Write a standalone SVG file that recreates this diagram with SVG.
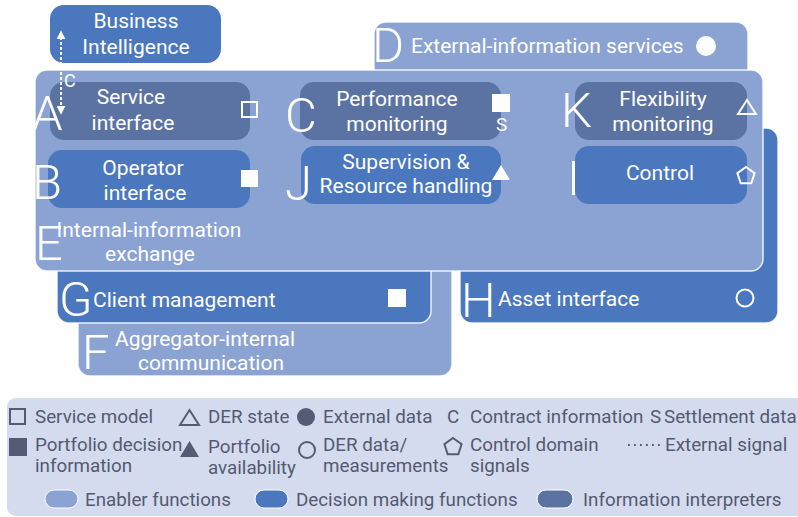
<svg xmlns="http://www.w3.org/2000/svg" width="798" height="517" viewBox="0 0 798 517">
<defs>
<style>
.en{fill:#8BA3D3;stroke:#ffffff;stroke-width:1.5;stroke-opacity:0.85}
.dm{fill:#4A77BE}
.dmb{fill:#4A77BE;stroke:#ffffff;stroke-width:1.5;stroke-opacity:0.85}
.ii{fill:#5B73A2}
.lbl{font-family:Roboto,"Liberation Sans",sans-serif;font-size:21px;fill:#ffffff}
.mid{text-anchor:middle}
.big{font-family:Roboto,"Liberation Sans",sans-serif;font-size:49px;font-weight:300;fill:#ffffff}
.sym{fill:#ffffff}
.symo{fill:none;stroke:#ffffff;stroke-width:2}
.leg{font-family:Roboto,"Liberation Sans",sans-serif;font-size:18.8px;fill:#535A72}
.ls{fill:#555B74}
.lso{fill:none;stroke:#555B74;stroke-width:2}
</style>
<marker id="ah" viewBox="0 0 10 10" refX="8" refY="5" markerWidth="4.5" markerHeight="4.5" orient="auto-start-reverse" markerUnits="strokeWidth">
<path d="M0,0 L10,5 L0,10 Z" fill="#ffffff"/>
</marker>
</defs>

<g id="node-F">
<rect class="en" x="78" y="250" width="374" height="126" rx="12"/>
<text class="big" x="82" y="369">F</text>
<text class="lbl" x="115" y="346">Aggregator-internal</text>
<text class="lbl mid" x="211" y="370">communication</text>
</g>

<g id="node-G">
<rect class="dmb" x="57" y="250" width="374" height="73" rx="12"/>
<text class="big" x="59" y="316">G</text>
<text class="lbl" x="93" y="307">Client management</text>
<rect class="sym" x="388" y="289" width="18" height="18"/>
</g>

<g id="node-H">
<rect class="dmb" x="460" y="128" width="318" height="195" rx="12"/>
<text class="big" x="461" y="317">H</text>
<text class="lbl" x="498" y="306">Asset interface</text>
<circle class="symo" cx="745" cy="298" r="8.5"/>
</g>

<g id="node-D">
<rect class="en" x="374" y="22" width="374" height="80" rx="12"/>
<text class="big" x="372" y="62">D</text>
<text class="lbl" x="411" y="53">External-information services</text>
<circle class="sym" cx="706" cy="46" r="10"/>
</g>

<g id="node-E">
<rect class="en" x="35" y="70" width="728" height="201" rx="12"/>
<text class="big" x="35" y="260">E</text>
<text class="lbl mid" x="149" y="237">Internal-information</text>
<text class="lbl mid" x="150" y="261">exchange</text>
</g>

<g id="node-A">
<rect class="ii" x="50" y="82" width="200" height="58" rx="14"/>
<text class="big" x="32" y="130">A</text>
<text class="lbl mid" x="131" y="104">Service</text>
<text class="lbl mid" x="133" y="130">interface</text>
<rect class="symo" x="242" y="102" width="15" height="15"/>
</g>

<g id="node-B">
<rect class="dm" x="48" y="150" width="202" height="58" rx="14"/>
<text class="big" x="32" y="199">B</text>
<text class="lbl mid" x="143" y="175">Operator</text>
<text class="lbl mid" x="145" y="200">interface</text>
<rect class="sym" x="241" y="170" width="17" height="17"/>
</g>

<g id="node-C">
<rect class="ii" x="300" y="82" width="201" height="58" rx="14"/>
<text class="big" x="285" y="132">C</text>
<text class="lbl mid" x="397" y="106">Performance</text>
<text class="lbl mid" x="397" y="131">monitoring</text>
<rect class="sym" x="492" y="94" width="18" height="18"/>
<text class="lbl" x="496" y="131" style="font-size:19px">S</text>
</g>

<g id="node-J">
<rect class="dm" x="301" y="146" width="200" height="58" rx="14"/>
<text class="big" x="285" y="200">J</text>
<text class="lbl mid" x="406" y="169">Supervision &amp;</text>
<text class="lbl mid" x="406" y="193">Resource handling</text>
<polygon class="sym" points="492,180 510,180 501,165"/>
</g>

<g id="node-K">
<rect class="ii" x="575" y="82" width="172" height="58" rx="14"/>
<text class="big" x="561" y="127">K</text>
<text class="lbl mid" x="663" y="106">Flexibility</text>
<text class="lbl mid" x="663" y="131">monitoring</text>
<polygon class="symo" points="738,114 756,114 747,100"/>
</g>

<g id="node-I">
<rect class="dm" x="575" y="146" width="172" height="58" rx="14"/>
<text class="big" x="567" y="195">I</text>
<text class="lbl mid" x="660" y="180">Control</text>
<polygon class="symo" points="746,167 754.6,173.2 751.3,183.3 740.7,183.3 737.4,173.2"/>
</g>

<g id="node-BI">
<rect class="dm" x="50" y="5" width="171" height="58" rx="14"/>
<text class="lbl mid" x="136" y="28">Business</text>
<text class="lbl mid" x="136" y="54">Intelligence</text>
</g>

<g id="connectors">
<line x1="61" y1="32" x2="61" y2="113" stroke="#ffffff" stroke-width="2" stroke-dasharray="3 2" marker-start="url(#ah)" marker-end="url(#ah)"/>
<text class="lbl" x="64" y="87" style="font-size:18px">C</text>
</g>

<g id="legend">
<rect x="7" y="398" width="800" height="118" rx="9" fill="#D5DBEE"/>
<rect class="lso" x="10" y="409" width="15" height="15"/>
<text class="leg" x="35" y="423">Service model</text>
<polygon class="lso" points="180,425 199,425 189.5,410"/>
<text class="leg" x="208" y="423">DER state</text>
<circle class="ls" cx="306" cy="417" r="9"/>
<text class="leg" x="323" y="423">External data</text>
<text class="leg" x="447" y="423">C</text>
<text class="leg" x="470" y="423">Contract information</text>
<text class="leg" x="650" y="423">S</text>
<text class="leg" x="664" y="423">Settlement data</text>

<rect class="ls" x="9" y="438" width="18" height="18"/>
<text class="leg" x="35" y="451">Portfolio decision</text>
<text class="leg" x="35" y="472">information</text>
<polygon class="ls" points="180,457 199,457 189.5,441"/>
<text class="leg" x="208" y="453">Portfolio</text>
<text class="leg" x="208" y="474">availability</text>
<circle class="lso" cx="307" cy="450" r="8"/>
<text class="leg" x="323" y="451">DER data/</text>
<text class="leg" x="323" y="472">measurements</text>
<polygon class="lso" points="453,438 461.6,444.2 458.3,454.3 447.7,454.3 444.4,444.2"/>
<text class="leg" x="470" y="451">Control domain</text>
<text class="leg" x="470" y="472">signals</text>
<line x1="628" y1="445" x2="664" y2="445" stroke="#555B74" stroke-width="1.8" stroke-dasharray="1.8 4.2"/>
<text class="leg" x="665" y="451">External signal</text>

<rect x="45" y="490" width="33" height="18" rx="9" fill="#8BA3D3" stroke="#ffffff" stroke-width="1"/>
<text class="leg" x="85" y="506">Enabler functions</text>
<rect x="255" y="490" width="33" height="18" rx="9" fill="#4A77BE" stroke="#ffffff" stroke-width="1"/>
<text class="leg" x="296" y="506">Decision making functions</text>
<rect x="537" y="490" width="36" height="18" rx="9" fill="#5B73A2" stroke="#ffffff" stroke-width="1"/>
<text class="leg" x="583" y="506">Information interpreters</text>
</g>
</svg>
